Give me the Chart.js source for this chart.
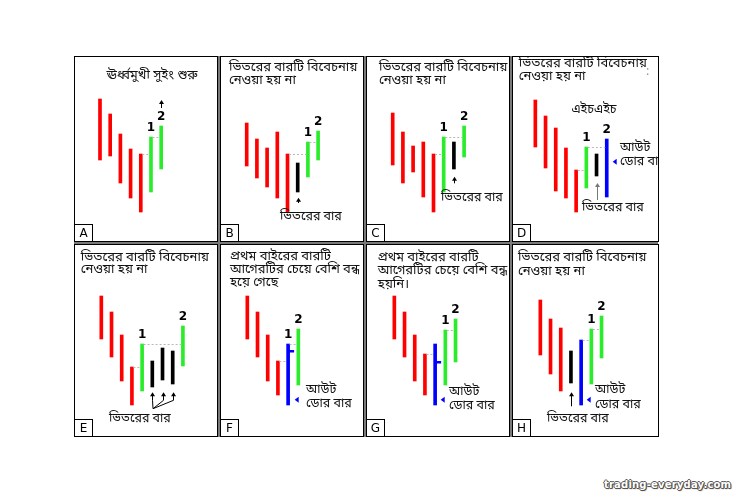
<!DOCTYPE html>
<html>
<head>
<meta charset="utf-8">
<script src="https://cdn.jsdelivr.net/npm/chart.js@4.4.1/dist/chart.umd.min.js"></script>
<style>
  body { margin: 0; background: #fff; width: 739px; height: 500px; position: relative; overflow: hidden; }
  .panel { position: absolute; border: 1px solid #000; background: #fff; }
  .panel canvas { display: block; }
  .gap { position: absolute; background: #7a7a7a; }
  .wm { position: absolute; left: 604px; top: 479px; font: bold 10px "DejaVu Sans", sans-serif; color: #fff;
        text-shadow: -1px 0 #555, 1px 0 #555, 0 -1px #555, 0 1px #555, 1px 1px 1px #333; letter-spacing: 0.2px; }
</style>
</head>
<body>
<div class="wm">trading-everyday.com</div>
<script>
// bar ranges [low, high] for every panel, price units
const barsA = [[8.1, 14.2], [8.5, 12.7], [5.8, 10.7], [4.3, 9.2], [2.9, 8.7], [4.9, 10.4], [7.2, 11.5]];
const barsB = [[7.5, 11.8], [6.3, 10.2], [5.4, 9.3], [4.3, 10.9], [2.9, 8.7], [4.9, 7.8], [6.4, 9.9], [8.1, 11.0]];
const barsC = [[7.6, 12.8], [5.8, 10.9], [6.9, 9.5], [4.4, 9.9], [2.9, 8.7], [4.9, 10.4], [7.2, 9.9], [8.4, 11.5]];
const barsD = [[9.4, 14.1], [7.3, 12.5], [5.0, 11.3], [4.3, 9.3], [2.9, 7.1], [5.3, 9.4], [6.5, 8.7], [4.4, 10.2]];
const barsE = [[9.7, 14.0], [7.9, 12.4], [5.5, 10.1], [3.1, 6.9], [4.5, 9.2], [4.9, 7.5], [5.6, 8.8], [5.2, 8.5], [7.0, 11.0]];
const barsF = [[9.7, 14.0], [7.9, 12.4], [5.5, 10.1], [4.1, 7.5], [3.1, 9.2], [5.1, 10.7]];
const barsG = [[9.7, 14.0], [7.9, 12.4], [5.5, 10.1], [4.1, 8.2], [3.1, 9.2], [5.1, 10.6], [7.4, 11.7]];
const barsH = [[8.1, 13.6], [6.2, 11.7], [4.5, 10.8], [5.3, 8.5], [3.1, 9.6], [5.2, 10.7], [7.8, 12.0]];

// bar kinds: r = down, g = up, k = inside, b = outside
const kindsA = ['r', 'r', 'r', 'r', 'r', 'g', 'g'];
const kindsB = ['r', 'r', 'r', 'r', 'r', 'k', 'g', 'g'];
const kindsC = ['r', 'r', 'r', 'r', 'r', 'g', 'k', 'g'];
const kindsD = ['r', 'r', 'r', 'r', 'r', 'g', 'k', 'b'];
const kindsE = ['r', 'r', 'r', 'r', 'g', 'k', 'k', 'k', 'g'];
const kindsF = ['r', 'r', 'r', 'r', 'b', 'g'];
const kindsG = ['r', 'r', 'r', 'r', 'b', 'g', 'g'];
const kindsH = ['r', 'r', 'r', 'k', 'b', 'g', 'g'];

// close of the outside bar (bar number -> close)
const closesF = {5: 8.5};
const closesG = {5: 7.4};

const COL = {r: '#ff0000', g: '#2bec2b', k: '#000000', b: '#0000ff'};
const T1 = ['ভিতরের বারটি বিবেচনায়', 'নেওয়া হয় না'];
const OUT1 = 'আউট', OUT2 = 'ডোর বার', INSIDE = 'ভিতরের বার';

const panels = [
  {id: 'A', bars: barsA, kinds: kindsA, col: 0, row: 0, xmin: -1.45,
   title: {lines: ['ঊর্ধ্বমুখী সুইং শুরু'], x: 77, y: 19, lh: 13, align: 'center'},
   one: 6, two: 7, dots: [[5, 6], [6, 7]], arrows: [{x: 7, from: 13.3, to: 14.1}], captions: []},
  {id: 'B', bars: barsB, kinds: kindsB, col: 1, row: 0, xmin: -1.52,
   title: {lines: T1, x: 8, y: 11.3, lh: 12.7},
   one: 7, two: 8, dots: [[5, 7], [7, 8]], arrows: [{x: 6, from: 3.8, to: 4.33}],
   captions: [{t: INSIDE, x: 59, y: 161}]},
  {id: 'C', bars: barsC, kinds: kindsC, col: 2, row: 0, xmin: -1.52,
   title: {lines: T1, x: 12, y: 11.3, lh: 12.7},
   one: 6, two: 8, dots: [[5, 6], [6, 8]], arrows: [{x: 7, from: 5.77, to: 6.43}],
   captions: [{t: INSIDE, x: 74, y: 141.3}]},
  {id: 'D', bars: barsD, kinds: kindsD, col: 3, row: 0, xmin: -1.19,
   title: {lines: T1, x: 5.7, y: 7.3, lh: 13.4},
   one: 6, two: 8, dots: [[5, 6], [6, 8]], arrows: [{x: 7, from: 4.1, to: 5.8, color: '#777'}],
   tris: [{x: 8.78, y: 7.93}],
   captions: [{t: INSIDE, x: 69, y: 152}, {t: OUT1, x: 107, y: 92}, {t: OUT2, x: 107, y: 105.3},
              {t: 'এইচএইচ', x: 81, y: 54, align: 'center'}, {t: ':', x: 133, y: 16, color: '#999'}]},
  {id: 'E', bars: barsE, kinds: kindsE, col: 0, row: 1, xmin: -1.58,
   title: {lines: T1, x: 5.7, y: 13, lh: 12.2},
   one: 5, two: 9, dots: [[4, 5], [5, 9]],
   fan: {x: 6.07, y: 2.73, tips: [[6, 4.37], [7, 4.37], [8, 4.37]]},
   captions: [{t: INSIDE, x: 34, y: 174.7}]},
  {id: 'F', bars: barsF, kinds: kindsF, col: 1, row: 1, xmin: -1.58, closes: closesF,
   title: {lines: ['প্রথম বাইরের বারটি', 'আগেরটির চেয়ে বেশি বন্ধ', 'হয়ে গেছে'], x: 9, y: 12, lh: 13.4},
   one: 5, two: 6, dots: [[4, 5], [5, 6]], tris: [{x: 5.84, y: 3.63}],
   captions: [{t: OUT1, x: 85, y: 145.7}, {t: OUT2, x: 85, y: 159.7}]},
  {id: 'G', bars: barsG, kinds: kindsG, col: 2, row: 1, xmin: -1.68, closes: closesG,
   title: {lines: ['প্রথম বাইরের বারটি', 'আগেরটির চেয়ে বেশি বন্ধ', 'হয়নি।'], x: 10.7, y: 13, lh: 13.8},
   one: 6, two: 7, dots: [[4, 5], [6, 7]], tris: [{x: 5.74, y: 3.63}],
   captions: [{t: OUT1, x: 82, y: 148}, {t: OUT2, x: 82, y: 161.3}]},
  {id: 'H', bars: barsH, kinds: kindsH, col: 3, row: 1, xmin: -1.68,
   title: {lines: T1, x: 5, y: 13, lh: 14},
   one: 6, two: 7, dots: [[5, 6], [6, 7]], arrows: [{x: 4, from: 2.97, to: 4.37}], tris: [{x: 5.74, y: 3.63}],
   captions: [{t: OUT1, x: 82, y: 145.7}, {t: OUT2, x: 82, y: 160.3}, {t: INSIDE, x: 34, y: 174.7}]}
];

// frame layout
const colLeft = [74, 220, 366, 512], colW = [144, 144, 144, 147];
const rowTop = [56, 244], rowH = [186, 193];
const PX_PER_BAR = 10.2, PX_PER_UNIT = 10;
const BN = '"Noto Sans Bengali", "Lohit Bengali", "FreeSans", "Noto Sans", sans-serif';

// gray bands between panels
[[218, 56, 2, 381], [364, 56, 2, 381], [510, 56, 2, 381], [74, 242, 584, 2]].forEach(([l, t, w, h]) => {
  const g = document.createElement('div');
  g.className = 'gap';
  Object.assign(g.style, {left: l + 'px', top: t + 'px', width: w + 'px', height: h + 'px'});
  document.body.appendChild(g);
});

function arrowUp(ctx, x, y0, y1, color) {
  ctx.strokeStyle = color; ctx.fillStyle = color; ctx.lineWidth = 1;
  ctx.beginPath(); ctx.moveTo(x, y0); ctx.lineTo(x, y1 + 3); ctx.stroke();
  ctx.beginPath(); ctx.moveTo(x, y1); ctx.lineTo(x - 2.5, y1 + 4); ctx.lineTo(x + 2.5, y1 + 4); ctx.closePath(); ctx.fill();
}

const overlay = {
  id: 'overlay',
  afterDatasetsDraw(chart, args, o) {
    const p = o.panel, ctx = chart.ctx;
    const xs = chart.scales.x, ys = chart.scales.y;
    const px = v => xs.getPixelForValue(v), py = v => ys.getPixelForValue(v);
    ctx.save();
    // dotted level lines
    ctx.strokeStyle = '#b8b8b8'; ctx.lineWidth = 1; ctx.setLineDash([2, 2]);
    p.dots.forEach(([a, b]) => {
      const yy = Math.round(py(p.bars[a - 1][1])) + 0.5;
      ctx.beginPath(); ctx.moveTo(px(a) + 1.5, yy); ctx.lineTo(px(b) - 1.5, yy); ctx.stroke();
    });
    ctx.setLineDash([]);
    // close ticks of the outside bar
    Object.entries(p.closes || {}).forEach(([i, c]) => {
      ctx.fillStyle = COL[p.kinds[i - 1]];
      ctx.fillRect(px(+i), Math.round(py(c)) - 1, 6, 2.5);
    });
    // numbers 1 and 2
    ctx.fillStyle = '#000'; ctx.font = 'bold 12px "DejaVu Sans", sans-serif';
    ctx.textAlign = 'center'; ctx.textBaseline = 'middle';
    [[p.one, '1'], [p.two, '2']].forEach(([i, s]) => ctx.fillText(s, px(i), py(p.bars[i - 1][1]) - 9));
    // arrows
    (p.arrows || []).forEach(a => arrowUp(ctx, Math.round(px(a.x)) + 0.5, py(a.from), py(a.to), a.color || '#000'));
    if (p.fan) {
      const bx = px(p.fan.x), by = py(p.fan.y);
      p.fan.tips.forEach(([i, v]) => {
        const tx = Math.round(px(i)) + 0.5, ty = py(v);
        ctx.strokeStyle = '#000'; ctx.lineWidth = 1;
        ctx.beginPath(); ctx.moveTo(bx, by); ctx.lineTo(tx, ty + 8); ctx.stroke();
        arrowUp(ctx, tx, ty + 8, ty, '#000');
      });
    }
    // small blue pointers
    ctx.fillStyle = '#0000ff';
    (p.tris || []).forEach(t => {
      const x = px(t.x), y = py(t.y);
      ctx.beginPath(); ctx.moveTo(x - 2, y); ctx.lineTo(x + 2, y - 3); ctx.lineTo(x + 2, y + 3); ctx.closePath(); ctx.fill();
    });
    ctx.restore();
  },
  afterDraw(chart, args, o) {
    const p = o.panel, ctx = chart.ctx, h = chart.height;
    ctx.save();
    ctx.fillStyle = '#111'; ctx.font = '13px ' + BN; ctx.textBaseline = 'middle';
    ctx.textAlign = p.title.align || 'left';
    p.title.lines.forEach((s, k) => ctx.fillText(s, p.title.x, p.title.y + k * p.title.lh));
    ctx.font = '12.5px ' + BN;
    p.captions.forEach(c => {
      ctx.fillStyle = c.color || '#111';
      ctx.textAlign = c.align || 'left';
      ctx.fillText(c.t, c.x, c.y);
    });
    // letter box
    ctx.strokeStyle = '#000'; ctx.lineWidth = 1;
    ctx.strokeRect(-0.5, h - 16.5, 18, 17);
    ctx.fillStyle = '#000'; ctx.font = '12px "DejaVu Sans", sans-serif'; ctx.textAlign = 'center';
    ctx.fillText(p.id, 8.5, h - 7.5);
    ctx.restore();
  }
};

panels.forEach(p => {
  const box = document.createElement('div');
  box.className = 'panel';
  const w = colW[p.col] - 2, h = rowH[p.row] - 2;
  Object.assign(box.style, {left: colLeft[p.col] + 'px', top: rowTop[p.row] + 'px', width: w + 'px', height: h + 'px'});
  const cv = document.createElement('canvas');
  cv.width = w; cv.height = h;
  box.appendChild(cv);
  document.body.appendChild(box);

  new Chart(cv, {
    type: 'bar',
    data: {
      datasets: [{
        data: p.bars.map((b, i) => ({x: i + 1, y: b})),
        backgroundColor: p.kinds.map(k => COL[k]),
        barThickness: 3,
        borderWidth: 0
      }]
    },
    options: {
      responsive: false,
      animation: false,
      devicePixelRatio: 1,
      layout: {padding: 0},
      plugins: {
        legend: {display: false},
        tooltip: {enabled: false},
        overlay: {panel: p}
      },
      scales: {
        x: {type: 'linear', display: false, offset: false, min: p.xmin, max: p.xmin + w / PX_PER_BAR},
        y: {display: false, min: 0, max: h / PX_PER_UNIT}
      }
    },
    plugins: [overlay]
  });
});
</script>
</body>
</html>
